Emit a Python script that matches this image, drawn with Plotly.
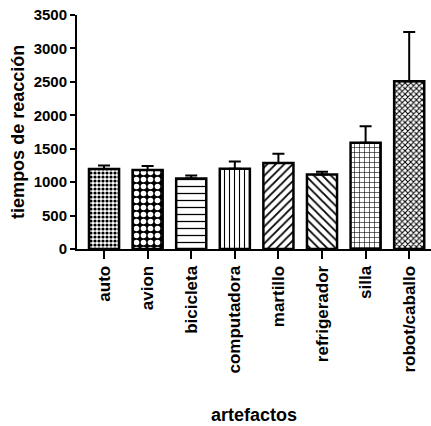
import plotly.graph_objects as go

# Reaction times per artefact (mean and upper error)
categorias = ["auto", "avion", "bicicleta", "computadora", "martillo",
              "refrigerador", "silla", "robot/caballo"]
tiempos = [1195, 1180, 1055, 1200, 1285, 1115, 1590, 2510]
error_sup = [55, 60, 45, 110, 140, 40, 245, 735]

# Fill pattern for each bar
formas = [".", ".", "-", "|", "/", "\\", "+", "x"]
tamanos = [4, 7, 7, 5, 6, 6, 5, 4]
solidez = [0.5, 0.5, 0.18, 0.22, 0.3, 0.3, 0.22, 0.45]
color_trama = ["black", "white", "black", "black", "black", "black", "black", "black"]
color_fondo = ["white", "black", "white", "white", "white", "white", "white", "white"]

FUENTE = "Liberation Sans, Arial, sans-serif"

fig = go.Figure(
    go.Bar(
        x=categorias,
        y=tiempos,
        width=0.69,
        marker=dict(
            color="white",
            line=dict(color="black", width=2.5),
            pattern=dict(
                shape=formas,
                size=tamanos,
                solidity=solidez,
                fgcolor=color_trama,
                bgcolor=color_fondo,
                fillmode="replace",
            ),
        ),
        error_y=dict(
            type="data",
            symmetric=False,
            array=error_sup,
            arrayminus=[0] * len(error_sup),
            color="black",
            thickness=2,
            width=6,
        ),
    )
)

fig.update_layout(
    width=431,
    height=426,
    margin=dict(l=77, r=0, t=15, b=177),
    paper_bgcolor="white",
    plot_bgcolor="white",
    showlegend=False,
    font=dict(family=FUENTE, color="black"),
    xaxis=dict(
        range=[-0.62, 7.5],
        showline=True,
        linecolor="black",
        linewidth=2,
        ticks="outside",
        ticklen=8,
        tickwidth=2,
        tickcolor="black",
        tickangle=-90,
        tickfont=dict(family=FUENTE, size=17, weight="bold"),
        showgrid=False,
        zeroline=False,
        automargin=False,
    ),
    yaxis=dict(
        range=[0, 3500],
        tickvals=[0, 500, 1000, 1500, 2000, 2500, 3000, 3500],
        showline=True,
        linecolor="black",
        linewidth=2,
        ticks="outside",
        ticklen=5,
        tickwidth=2,
        tickcolor="black",
        tickfont=dict(family=FUENTE, size=15, weight="bold"),
        showgrid=False,
        zeroline=False,
        automargin=False,
    ),
    annotations=[
        dict(
            text="artefactos",
            xref="paper", yref="paper",
            x=0.5, y=-0.709,
            xanchor="center", yanchor="middle",
            showarrow=False,
            font=dict(family=FUENTE, size=18, weight="bold"),
        ),
        dict(
            text="tiempos de reacción",
            xref="paper", yref="paper",
            x=-0.167, y=0.5,
            xanchor="center", yanchor="middle",
            textangle=-90,
            showarrow=False,
            font=dict(family=FUENTE, size=18, weight="bold"),
        ),
    ],
)

fig.write_html("out.html")
